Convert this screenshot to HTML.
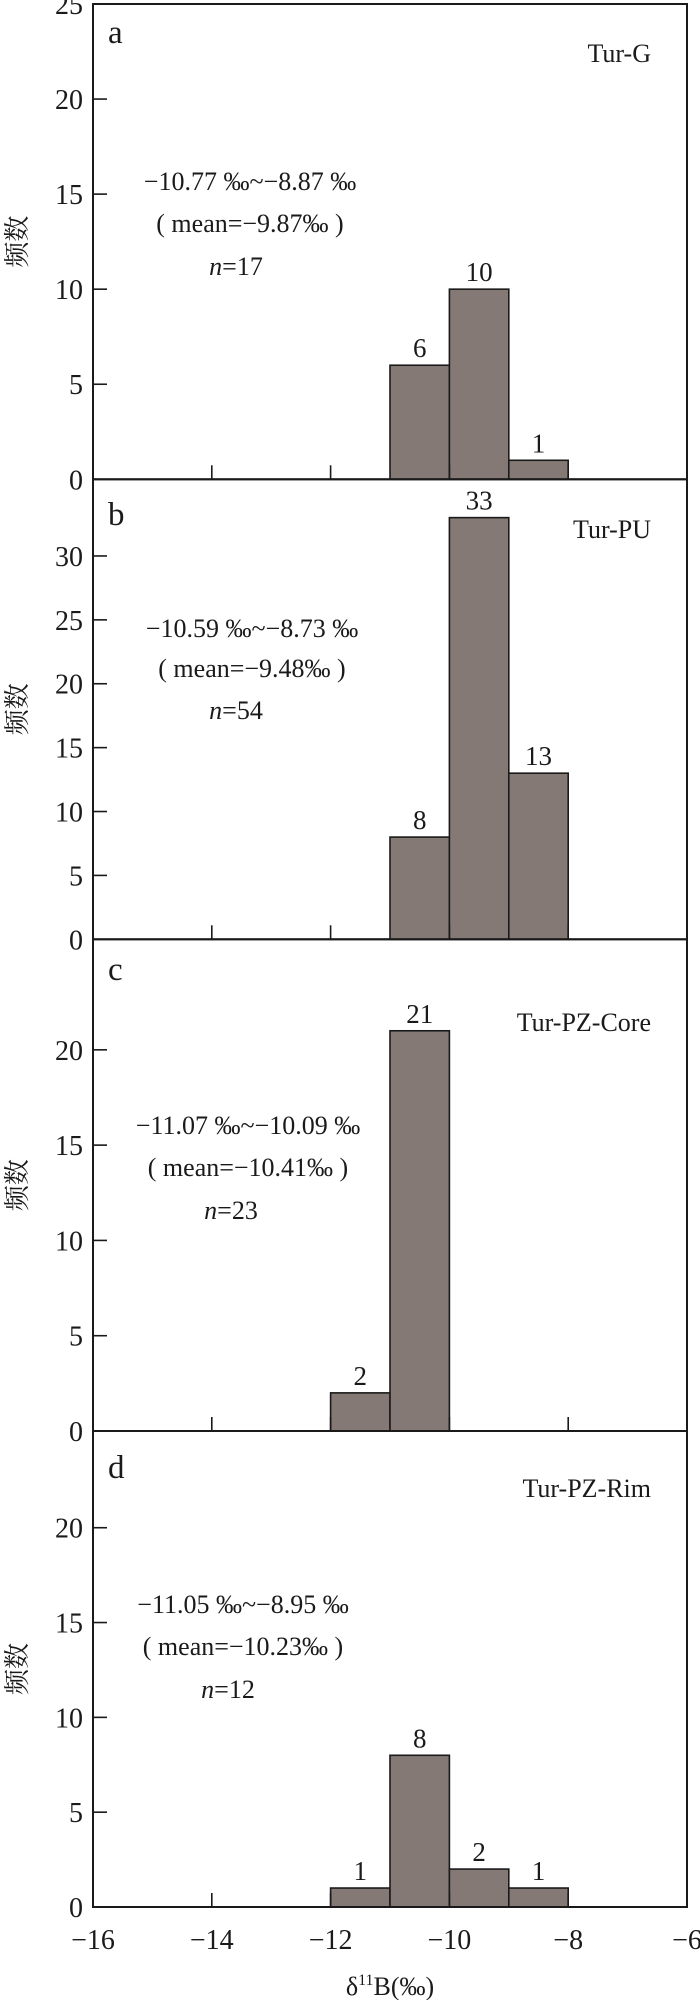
<!DOCTYPE html>
<html><head><meta charset="utf-8">
<style>
html,body{margin:0;padding:0;background:#fff;}
svg{display:block;}
text{font-family:"Liberation Serif","Noto Serif CJK SC",serif;fill:#1a1a1a;}
</style></head>
<body>
<svg id="chart" width="700" height="2000" viewBox="0 0 700 2000" xmlns="http://www.w3.org/2000/svg"></svg>
<script>
// Data
const binStarts = [-12, -11, -10, -9];
const countsA = [0, 6, 10, 1];
const countsB = [0, 8, 33, 13];
const countsC = [2, 21, 0, 0];
const countsD = [1, 8, 2, 1];
const xTicks = [-16, -14, -12, -10, -8, -6];
const panelLetters = ['a', 'b', 'c', 'd'];
const panelNames = ['Tur-G', 'Tur-PU', 'Tur-PZ-Core', 'Tur-PZ-Rim'];
const rangeText = ['\u221210.77 \u2030~\u22128.87 \u2030', '\u221210.59 \u2030~\u22128.73 \u2030', '\u221211.07 \u2030~\u221210.09 \u2030', '\u221211.05 \u2030~\u22128.95 \u2030'];
const meanText = ['( mean=\u22129.87\u2030 )', '( mean=\u22129.48\u2030 )', '( mean=\u221210.41\u2030 )', '( mean=\u221210.23\u2030 )'];
const nValues = [17, 54, 23, 12];
const yTicksA = [0, 5, 10, 15, 20, 25];
const yTicksB = [0, 5, 10, 15, 20, 25, 30];
const yTicksC = [0, 5, 10, 15, 20];
const yTicksD = [0, 5, 10, 15, 20];

// Layout
const L = 93, R = 687;
const panels = [
  {top: 4, bottom: 479.3, ymax: 25, counts: countsA, ticks: yTicksA, letterY: 43, nameY: 62, textY: [190, 232, 275], cx: 250, nx: 236},
  {top: 479.3, bottom: 939.3, ymax: 36, counts: countsB, ticks: yTicksB, letterY: 525, nameY: 538, textY: [637, 677, 719], cx: 252, nx: 236},
  {top: 939.3, bottom: 1431, ymax: 25.8, counts: countsC, ticks: yTicksC, letterY: 980, nameY: 1031, textY: [1134, 1176, 1219], cx: 248, nx: 231},
  {top: 1431, bottom: 1907, ymax: 25.1, counts: countsD, ticks: yTicksD, letterY: 1478, nameY: 1497, textY: [1613, 1655, 1698], cx: 243, nx: 228}
];
const svg = document.getElementById('chart');
const NS = 'http://www.w3.org/2000/svg';
function xs(v){ return L + (v + 16) / 10 * (R - L); }
function mk(tag, attrs, parent){
  const e = document.createElementNS(NS, tag);
  for (const k in attrs) e.setAttribute(k, attrs[k]);
  (parent || svg).appendChild(e);
  return e;
}

panels.forEach((p, i) => {
  const ys = v => p.bottom - v / p.ymax * (p.bottom - p.top);
  const g = mk('g', {});
  
  
  // bars
  p.counts.forEach((c, j) => {
    if (c <= 0) return;
    const x0 = xs(binStarts[j]), x1 = xs(binStarts[j] + 1);
    const r = mk('rect', {x: x0, y: ys(c), width: x1 - x0, height: p.bottom - ys(c), fill: '#847975', stroke: '#1a1a1a', 'stroke-width': 1.6}, g);
    
    
    const t = mk('text', {x: (x0 + x1) / 2, y: ys(c) - 8, 'font-size': 27, 'text-anchor': 'middle'}, g);
    t.textContent = c;
    
    
  });
  // x ticks (inward)
  xTicks.forEach(v => {
    if (v === -16 || v === -6) return;
    mk('line', {x1: xs(v), x2: xs(v), y1: p.bottom, y2: p.bottom - 14, stroke: '#1a1a1a', 'stroke-width': 1.6}, g);
  });
  // y ticks
  p.ticks.forEach(v => {
    const y = ys(v);
    if (v > 0) mk('line', {x1: L, x2: L + 14, y1: y, y2: y, stroke: '#1a1a1a', 'stroke-width': 1.6}, g);
    const t = mk('text', {x: L - 10, y: y + 10, 'font-size': 28, 'text-anchor': 'end'}, g);
    t.textContent = v;
    
    
  });
  // frame
  const f = mk('rect', {x: L, y: p.top, width: R - L, height: p.bottom - p.top, fill: 'none', stroke: '#1a1a1a', 'stroke-width': 2}, g);
  
  
  // y title
  const cy = (p.top + p.bottom) / 2;
  const yt = mk('text', {x: 0, y: 0, 'font-size': 26, 'text-anchor': 'middle', transform: 'translate(26,' + cy + ') rotate(-90)'}, g);
  yt.textContent = '频数';
  
  
  // letter
  const lt = mk('text', {x: 108, y: p.letterY, 'font-size': 33}, g);
  lt.textContent = panelLetters[i];
  
  
  const nm = mk('text', {x: 651, y: p.nameY, 'font-size': 26, 'text-anchor': 'end'}, g);
  nm.textContent = panelNames[i];
  
  
  const t1 = mk('text', {x: p.cx, y: p.textY[0], 'font-size': 26, 'text-anchor': 'middle'}, g);
  t1.textContent = rangeText[i];
  
  
  const t2 = mk('text', {x: p.cx, y: p.textY[1], 'font-size': 26, 'text-anchor': 'middle'}, g);
  t2.textContent = meanText[i];
  
  
  const t3 = mk('text', {x: p.nx, y: p.textY[2], 'font-size': 26, 'text-anchor': 'middle'}, g);
  const ti = mk('tspan', {'font-style': 'italic'}, t3);
  ti.textContent = 'n';
  const tn = mk('tspan', {}, t3);
  tn.textContent = '=' + nValues[i];
  
  
});

// x tick labels
xTicks.forEach(v => {
  const t = mk('text', {x: xs(v), y: 1949, 'font-size': 28, 'text-anchor': 'middle'});
  t.textContent = '\u2212' + Math.abs(v);
  
  
});
const xt = mk('text', {x: 390, y: 1995, 'font-size': 26, 'text-anchor': 'middle'});
const d1 = mk('tspan', {}, xt); d1.textContent = 'δ';
const d2 = mk('tspan', {'font-size': 16, dy: -10}, xt); d2.textContent = '11';
const d3 = mk('tspan', {dy: 10}, xt); d3.textContent = 'B(‰)';


</script>
</body></html>
